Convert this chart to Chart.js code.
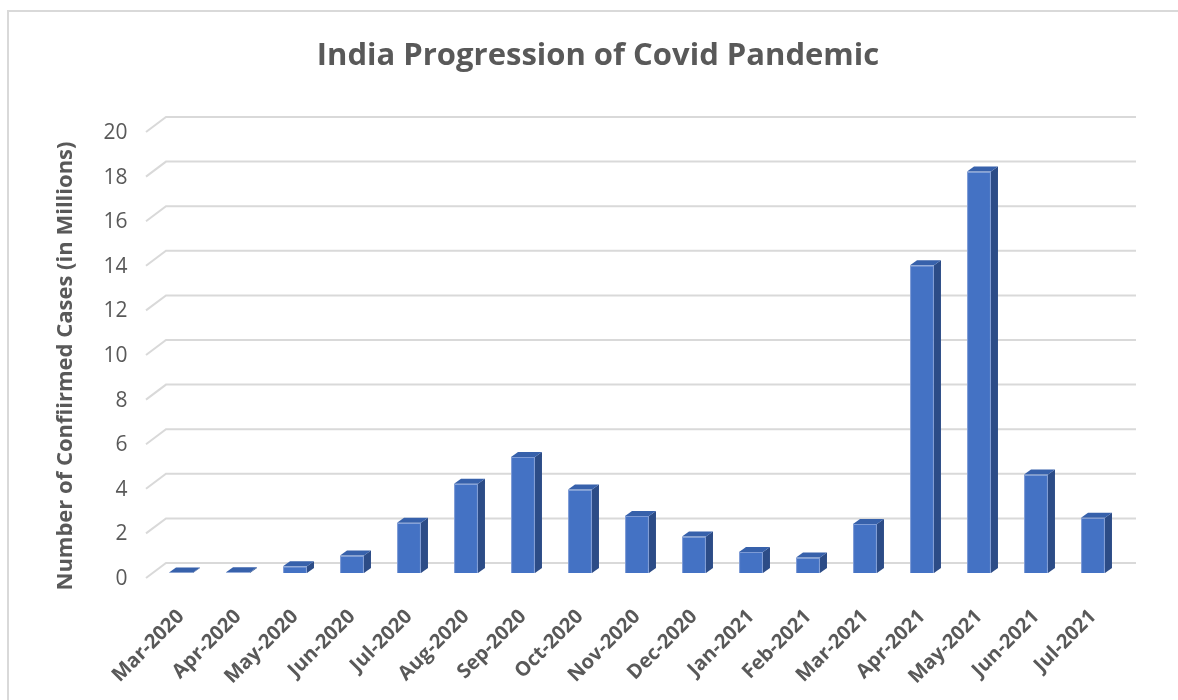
<!DOCTYPE html>
<html>
<head>
<meta charset="utf-8">
<script src="https://cdn.jsdelivr.net/npm/chart.js@4/dist/chart.umd.min.js"></script>
<style>
  html, body { margin: 0; padding: 0; background: #ffffff; }
  #wrap { width: 1178px; height: 700px; }
</style>
</head>
<body>
<div id="wrap"><canvas id="c" width="1178" height="700"></canvas></div>
<script>
// Monthly confirmed cases, in millions
const months = ['Mar-2020', 'Apr-2020', 'May-2020', 'Jun-2020', 'Jul-2020', 'Aug-2020',
  'Sep-2020', 'Oct-2020', 'Nov-2020', 'Dec-2020', 'Jan-2021', 'Feb-2021', 'Mar-2021',
  'Apr-2021', 'May-2021', 'Jun-2021', 'Jul-2021'];
const cases = [0.02, 0.03, 0.3, 0.78, 2.25, 4.0, 5.2, 3.74, 2.56, 1.64, 0.94, 0.7, 2.2,
  13.8, 18.0, 4.42, 2.48];
const yTicks = [0, 2, 4, 6, 8, 10, 12, 14, 16, 18, 20];

const TEXT = '#595959';
const GRID = '#d9d9d9';
const FRONT = '#4472c4';
const SIDE = '#2c4c87';
const TOP = '#3761ab';
const FONT = "'Open Sans', 'Noto Sans', sans-serif";

// Depth of the back wall and of the bars, for the pseudo-3D look
const WALL = { dxFront: -6.5, dyFront: 5, dxBack: 13.5, dyBack: -10, extraRight: 14.5 };
const BAR_DEPTH = { dx: 7, dy: -5 };

const framePlugin = {
  id: 'frame',
  beforeDraw(chart) {
    const ctx = chart.ctx;
    ctx.save();
    ctx.fillStyle = '#ffffff';
    ctx.fillRect(0, 0, chart.width, chart.height);
    ctx.strokeStyle = GRID;
    ctx.lineWidth = 2;
    ctx.beginPath();
    ctx.moveTo(8, chart.height + 2);
    ctx.lineTo(8, 11);
    ctx.lineTo(chart.width + 2, 11);
    ctx.stroke();
    ctx.restore();
  }
};

const wallPlugin = {
  id: 'wall',
  beforeDatasetsDraw(chart) {
    const ctx = chart.ctx;
    const y = chart.scales.y;
    const area = chart.chartArea;
    ctx.save();
    ctx.strokeStyle = GRID;
    ctx.lineWidth = 2;
    yTicks.forEach(v => {
      const py = y.getPixelForValue(v);
      ctx.beginPath();
      ctx.moveTo(area.left + WALL.dxFront, py + WALL.dyFront);
      ctx.lineTo(area.left + WALL.dxBack, py + WALL.dyBack);
      ctx.lineTo(area.right + WALL.extraRight, py + WALL.dyBack);
      ctx.stroke();
    });
    ctx.restore();
  }
};

const depthPlugin = {
  id: 'depth',
  afterDatasetsDraw(chart) {
    const ctx = chart.ctx;
    const meta = chart.getDatasetMeta(0);
    ctx.save();
    meta.data.forEach(bar => {
      const p = bar.getProps(['x', 'y', 'base', 'width'], true);
      const l = p.x - p.width / 2, r = p.x + p.width / 2;
      const t = Math.min(p.y, p.base), b = p.base;
      const dx = BAR_DEPTH.dx, dy = BAR_DEPTH.dy;
      // side face
      ctx.fillStyle = SIDE;
      ctx.beginPath();
      ctx.moveTo(r, t);
      ctx.lineTo(r + dx, t + dy);
      ctx.lineTo(r + dx, b + dy);
      ctx.lineTo(r, b);
      ctx.closePath();
      ctx.fill();
      // top face
      ctx.fillStyle = TOP;
      ctx.beginPath();
      ctx.moveTo(l, t);
      ctx.lineTo(l + dx, t + dy);
      ctx.lineTo(r + dx, t + dy);
      ctx.lineTo(r, t);
      ctx.closePath();
      ctx.fill();
    });
    ctx.restore();
  }
};

const titlesPlugin = {
  id: 'titles',
  afterDraw(chart) {
    const ctx = chart.ctx;
    ctx.save();
    ctx.fillStyle = TEXT;
    ctx.textAlign = 'center';
    ctx.textBaseline = 'middle';
    ctx.font = 'bold 31px ' + FONT;
    ctx.fillText('India Progression of Covid Pandemic', 598, 56);
    ctx.translate(66, 366);
    ctx.rotate(-Math.PI / 2);
    ctx.font = 'bold 22px ' + FONT;
    ctx.fillText('Number of Confiirmed Cases (in Millions)', 0, 0);
    ctx.restore();
  }
};

new Chart(document.getElementById('c'), {
  type: 'bar',
  data: {
    labels: months,
    datasets: [{
      data: cases,
      backgroundColor: FRONT,
      borderColor: '#7d9bd6',
      borderWidth: 1,
      barPercentage: 0.42,
      categoryPercentage: 1.0
    }]
  },
  options: {
    responsive: false,
    animation: false,
    devicePixelRatio: 1,
    layout: { padding: { left: 0, right: 56.5, top: 127, bottom: 0 } },
    plugins: {
      legend: { display: false },
      tooltip: { enabled: false },
      title: { display: false }
    },
    scales: {
      x: {
        grid: { display: false },
        border: { display: false },
        ticks: {
          color: TEXT,
          font: { family: FONT, size: 20, weight: 'bold' },
          maxRotation: 45,
          minRotation: 45,
          autoSkip: false,
          padding: 24
        },
        afterFit(scale) { scale.height = 127; }
      },
      y: {
        min: 0,
        max: 20,
        grid: { display: false },
        border: { display: false },
        afterBuildTicks(scale) { scale.ticks = yTicks.map(v => ({ value: v })); },
        ticks: {
          color: TEXT,
          font: { family: FONT, size: 21 },
          padding: 17,
          labelOffset: 6
        },
        afterFit(scale) { scale.width = 152.5; }
      }
    }
  },
  plugins: [framePlugin, wallPlugin, depthPlugin, titlesPlugin]
});
</script>
</body>
</html>
